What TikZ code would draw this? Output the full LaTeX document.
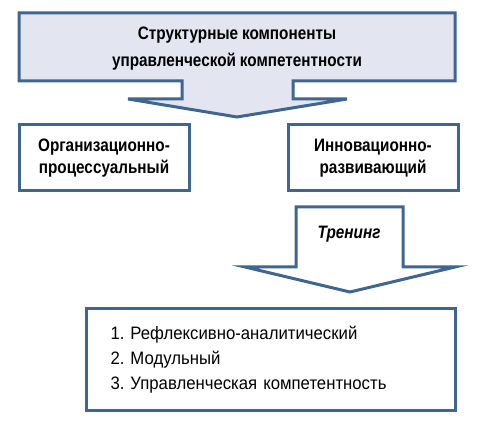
\documentclass[tikz,border=0pt]{standalone}
\usepackage{fontspec}
\setmainfont{Liberation Sans}[FakeStretch=0.85]
\newfontfamily\listfont{Liberation Sans}[FakeStretch=0.93]
\newcommand{\tightwords}{\spaceskip=0.22em\relax}
\usetikzlibrary{positioning}
\definecolor{frameblue}{HTML}{3E6690}
\definecolor{paleblue}{HTML}{E3E6F1}

\begin{document}
\frenchspacing
\begin{tikzpicture}[x=1pt, y=-1pt, line width=3pt]
  \tikzstyle{block} = [rectangle, draw=frameblue, fill=white, text centered, align=center, minimum width=170pt, minimum height=66pt, font=\fontsize{18}{22}\selectfont\bfseries]
  \tikzstyle{bigarrow} = [draw=frameblue, line join=miter]
  \useasboundingbox (0,0) rectangle (477,430);
  % top block arrow
  \draw [bigarrow, fill=paleblue] (19,13) -- (455,13) -- (455,81) -- (293,81) -- (293,99) -- (347,99) -- (237,117) -- (128,99) -- (182,99) -- (182,81) -- (19,81) -- cycle;
  \node [font=\fontsize{18}{27}\selectfont\bfseries\tightwords, align=center] (title) at (237,49) {Структурные компоненты\\управленческой компетентности};
  \node [block] (org) at (104,158) {Организационно-\\процессуальный};
  \node [block, right = 96pt of org] (inno) {Инновационно-\\развивающий};
  % training arrow
  \draw [bigarrow, fill=white] (296,207) -- (403,207) -- (403,267) -- (455,267) -- (350,292) -- (245,267) -- (296,267) -- cycle;
  \node [font=\fontsize{18}{20}\selectfont\bfseries\itshape] (training) at (349,234) {Тренинг};
  \node [block, font=\fontsize{18}{25}\selectfont\listfont\tightwords, align=left, text width=320pt, minimum width=369pt, minimum height=102pt] (result) at (270.5,360) {1. Рефлексивно-аналитический\\2. Модульный\\3. Управленческая компетентность};
\end{tikzpicture}
\end{document}
